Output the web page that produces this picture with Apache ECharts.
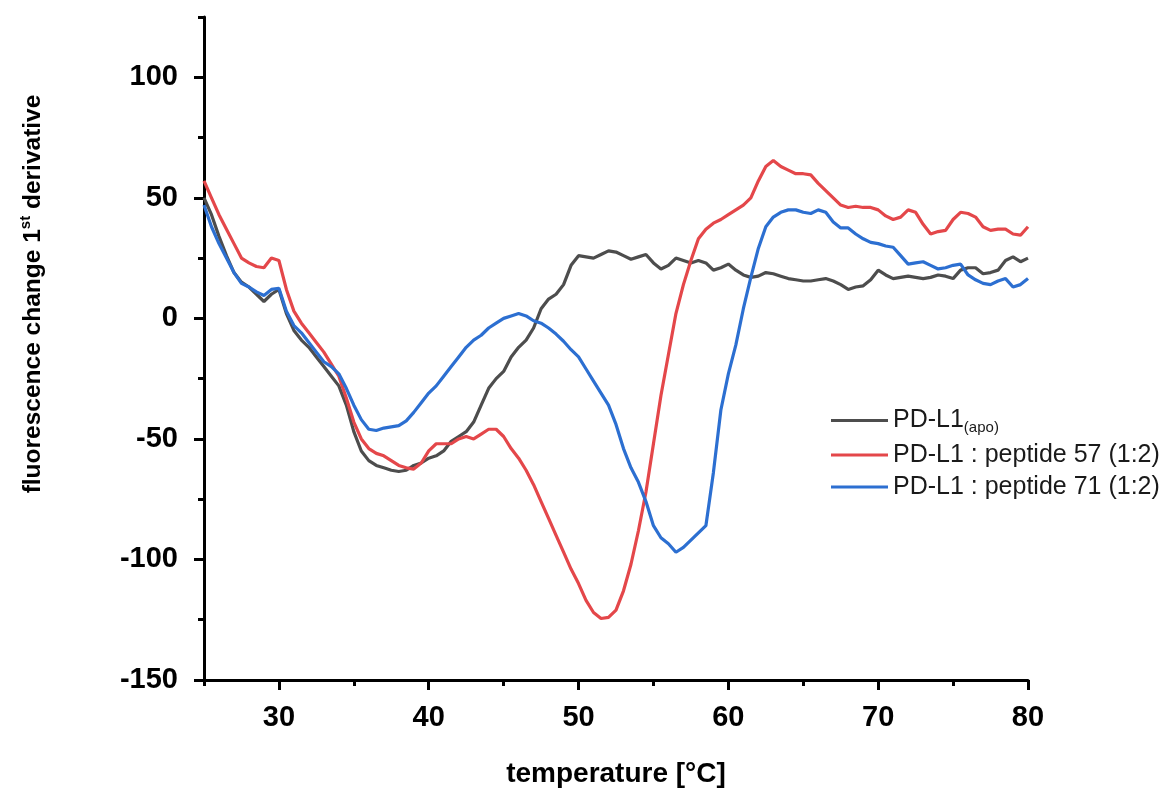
<!DOCTYPE html>
<html>
<head>
<meta charset="utf-8">
<script src="https://cdn.jsdelivr.net/npm/echarts@6/dist/echarts.min.js"></script>
<style>
html,body{margin:0;padding:0;background:#fff;}
#chart{width:1162px;height:789px;}
</style>
</head>
<body>
<div id="chart"></div>
<script>
// temperature grid (°C)
var temps = [];
for (var i = 0; i <= 110; i++) temps.push(25 + i * 0.5);

var seriesNames = ['PD-L1 (apo)', 'PD-L1 : peptide 57 (1:2)', 'PD-L1 : peptide 71 (1:2)'];

var apo = [50,43,34,26,19,15,13,10,7,10,12,2,-5,-9,-12,-16,-20,-24,-28,-36,-47,-55,-59,-61,-62,-63,-63.5,-63,-61,-60,
  -58,-57,-55,-51,-49,-47,-43,-36,-29,-25,-22,-16,-12,-9,-4,4,8,10,14,22,
  26,25.5,25,26.5,28,27.5,26,24.5,25.5,26.5,23,20.5,22,25,24,23,24,23,20,21,
  22.5,20,18,17,17.5,19,18.5,17.5,16.5,16,15.5,15.5,16,16.5,15.5,14,12,13,13.5,16,
  20,18,16.5,17,17.5,17,16.5,17,18,17.5,16.5,20,21,21,18.5,19,20,24,25.5,23.5,25];

var pep57 = [57,50,43,37,31,25,23,21.5,21,25,24,12,3,-2,-6,-10,-14,-19,-24,-33,-43,-50,-54,-56,-57,-59,-61,-62,-62.5,-60,
  -55,-52,-52,-52,-50,-49,-50,-48,-46,-46,-49,-54,-58,-63,-69,-76,-83,-90,-97,-104,
  -110,-117,-122,-124.5,-124,-121,-113,-102,-88,-72,-52,-32,-15,2,14,24,33,37,39.5,41,
  43,45,47,50,57,63,65.5,63,61.5,60,60,59.5,56,53,50,47,46,46.5,46,46,
  45,42.5,41,42,45,44,39,35,36,36.5,41,44,43.5,42,38,36.5,37,37,35,34.5,38];

var pep71 = [47,38,31,25,19,14.5,13,11,9.5,12,12.5,3,-3,-6,-10,-14,-18,-20,-23,-29,-36,-42,-46,-46.5,-45.5,-45,-44.5,-42.5,-39,-35,
  -31,-28,-24,-20,-16,-12,-9,-7,-4,-2,0,1,2,1,-1,-2,-4,-6.5,-9.5,-13,
  -16,-21,-26,-31,-36,-44,-54,-62,-68,-76,-86,-91,-93.5,-97,-95,-92,-89,-86,-64,-38,
  -23,-11,4,17,29,38,42,44,45,45,44,43.5,45,44,40,37.5,37.5,35,33,31.5,
  31,30,29.5,26,22.5,23,23.5,22,20.5,21,22,22.5,18,16,14.5,14,15.5,16.5,13,14,16.5];

var xMajorTicks = [30, 40, 50, 60, 70, 80];
var xMinorTicks = [25, 35, 45, 55, 65, 75];
var yMajorTicks = [-150, -100, -50, 0, 50, 100];
var yMinorTicks = [-125, -75, -25, 25, 75, 125];

function pairs(vals) {
  return temps.map(function (t, i) { return [t, vals[i]]; });
}

var FONT = "'Liberation Sans', Arial, Helvetica, sans-serif";
var chart = echarts.init(document.getElementById('chart'), null, {renderer: 'canvas'});

var axisLineStyle = {color: '#000', width: 3};

var option = {
  animation: false,
  backgroundColor: '#fff',
  grid: {left: 204, right: 134, top: 17, bottom: 109, containLabel: false},
  xAxis: [
    {
      type: 'value', min: 25, max: 80, position: 'bottom',
      axisLine: {show: true, onZero: false, lineStyle: axisLineStyle},
      axisTick: {show: true, length: 10, lineStyle: {color: '#000', width: 3}, customValues: xMajorTicks},
      axisLabel: {show: true, customValues: xMajorTicks, margin: 23, color: '#000',
        fontSize: 29, fontWeight: 'bold', fontFamily: FONT},
      splitLine: {show: false}
    },
    {
      type: 'value', min: 25, max: 80, position: 'bottom',
      axisLine: {show: false, onZero: false},
      axisTick: {show: true, length: 6, lineStyle: {color: '#000', width: 3}, customValues: xMinorTicks},
      axisLabel: {show: false},
      splitLine: {show: false}
    }
  ],
  yAxis: [
    {
      type: 'value', min: -150, max: 125, position: 'left',
      axisLine: {show: true, onZero: false, lineStyle: axisLineStyle},
      axisTick: {show: true, length: 10, lineStyle: {color: '#000', width: 3}, customValues: yMajorTicks},
      axisLabel: {show: true, customValues: yMajorTicks, margin: 26, color: '#000',
        fontSize: 29, fontWeight: 'bold', fontFamily: FONT},
      splitLine: {show: false}
    },
    {
      type: 'value', min: -150, max: 125, position: 'left',
      axisLine: {show: false, onZero: false},
      axisTick: {show: true, length: 6, lineStyle: {color: '#000', width: 3}, customValues: yMinorTicks},
      axisLabel: {show: false},
      splitLine: {show: false}
    }
  ],
  legend: {
    orient: 'vertical',
    left: 826, top: 403,
    itemWidth: 57, itemHeight: 3, itemGap: 7,
    icon: 'rect',
    data: seriesNames,
    formatter: function (name) {
      if (name === seriesNames[0]) return '{n|PD-L1}{sub|(apo)}';
      return '{n|' + name + '}';
    },
    textStyle: {
      fontFamily: FONT, color: '#1a1a1a', fontSize: 25,
      rich: {
        n: {fontSize: 25, lineHeight: 30, color: '#1a1a1a', fontFamily: FONT},
        sub: {fontSize: 15, lineHeight: 15, verticalAlign: 'bottom', color: '#1a1a1a', fontFamily: FONT}
      }
    }
  },
  series: [
    {name: seriesNames[0], type: 'line', data: pairs(apo), showSymbol: false, symbol: 'none',
      lineStyle: {color: '#4d4d4d', width: 3.2}, itemStyle: {color: '#4d4d4d'}, z: 2},
    {name: seriesNames[1], type: 'line', data: pairs(pep57), showSymbol: false, symbol: 'none',
      lineStyle: {color: '#e4474a', width: 3.2}, itemStyle: {color: '#e4474a'}, z: 3},
    {name: seriesNames[2], type: 'line', data: pairs(pep71), showSymbol: false, symbol: 'none',
      lineStyle: {color: '#2c6fd1', width: 3.2}, itemStyle: {color: '#2c6fd1'}, z: 4}
  ],
  graphic: [
    {
      type: 'text', x: 616, y: 774,
      style: {text: 'temperature [°C]', fontSize: 28, fontWeight: 'bold', fontFamily: FONT,
        fill: '#000', align: 'center', verticalAlign: 'middle'}
    },
    {
      type: 'text', x: 33, y: 294, rotation: Math.PI / 2,
      style: {
        text: '{a|fluorescence change 1}{s|st}{a| derivative}',
        align: 'center', verticalAlign: 'middle', fill: '#000',
        rich: {
          a: {fontSize: 24.5, lineHeight: 30, fontWeight: 'bold', fontFamily: FONT, fill: '#000', color: '#000'},
          s: {fontSize: 15, lineHeight: 15, verticalAlign: 'top', fontWeight: 'bold', fontFamily: FONT, fill: '#000', color: '#000'}
        }
      }
    }
  ]
};
chart.setOption(option);
</script>
</body>
</html>
